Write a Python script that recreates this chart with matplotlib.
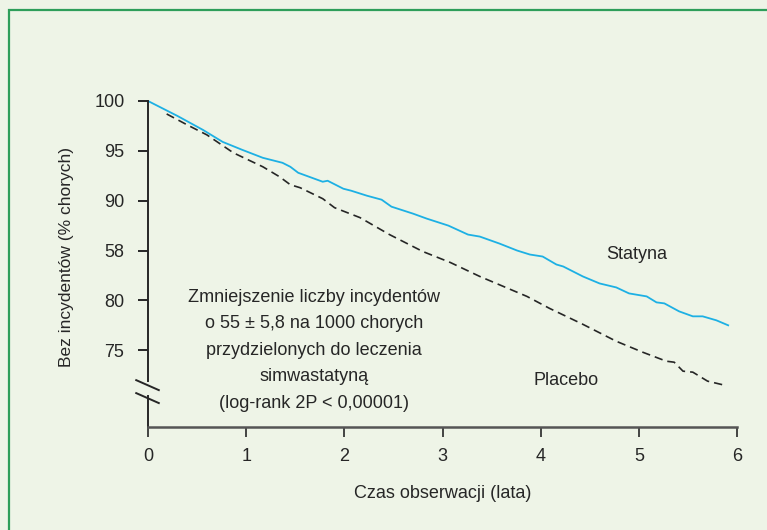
""" Kaplan-Meier style curves: simwastatyna vs placebo
"""
import matplotlib
matplotlib.use("Agg")
import matplotlib.pyplot as plt
from matplotlib.patches import Rectangle

plt.rcParams["font.family"] = ["Liberation Sans", "DejaVu Sans"]

# data
statyna_x = [0, 0.3, 0.56, 0.76, 0.96, 1.17, 1.37, 1.45, 1.53, 1.78, 1.83, 1.99, 2.07,
             2.23, 2.38, 2.48, 2.70, 2.84, 3.06, 3.26, 3.38, 3.58, 3.76, 3.89, 4.02,
             4.16, 4.23, 4.43, 4.60, 4.77, 4.90, 5.08, 5.18, 5.26, 5.41, 5.55, 5.65,
             5.79, 5.91]
statyna_y = [100, 98.5, 97.1, 95.9, 95.1, 94.3, 93.8, 93.4, 92.8, 91.9, 92.0, 91.2, 91.0,
             90.5, 90.1, 89.4, 88.7, 88.2, 87.5, 86.6, 86.4, 85.7, 85.0, 84.6, 84.4,
             83.6, 83.4, 82.4, 81.7, 81.3, 80.7, 80.4, 79.8, 79.7, 78.9, 78.4, 78.4,
             78.0, 77.5]

placebo_x = [0.19, 0.40, 0.60, 0.87, 1.17, 1.34, 1.45, 1.55, 1.78, 1.90, 2.16, 2.46,
             2.80, 3.08, 3.38, 3.86, 4.09, 4.43, 4.77, 5.04, 5.28, 5.36, 5.45, 5.55,
             5.70, 5.87]
placebo_y = [98.7, 97.6, 96.6, 94.8, 93.4, 92.4, 91.6, 91.3, 90.2, 89.3, 88.3, 86.6,
             84.9, 83.8, 82.4, 80.4, 79.2, 77.6, 75.9, 74.8, 73.9, 73.8, 72.9, 72.8,
             71.9, 71.5]

x_ticks = [0, 1, 2, 3, 4, 5, 6]
y_ticks = [100, 95, 90, 85, 80, 75]
y_tick_labels = ["100", "95", "90", "58", "80", "75"]

note = ("Zmniejszenie liczby incydentów\no 55 \u00b1 5,8 na 1000 chorych\n"
        "przydzielonych do leczenia\nsimwastatyną\n(log-rank 2P < 0,00001)")

BG = "#eef4e7"
CYAN = "#1db0e4"
INK = "#262626"
Y_BOTTOM = 67.3
Y_TOP = 100.3
GAP_LOW, GAP_HIGH = 70.4, 71.9


def main() -> None:
    fig = plt.figure(figsize=(7.67, 5.30), dpi=100)
    fig.patch.set_facecolor(BG)

    # green frame (only top and left edges visible)
    fig.patches.append(Rectangle((9 / 767, -0.5), 2.0, 0.5 + (1 - 10 / 530),
                                 transform=fig.transFigure, fill=False,
                                 edgecolor="#2e9e5a", linewidth=1.6))

    ax = fig.add_axes([148 / 767, 1 - 427 / 530, (737 - 148) / 767, (427 - 98) / 530])
    ax.set_facecolor("none")

    ax.plot(statyna_x, statyna_y, color=CYAN, lw=1.3)
    ax.plot(placebo_x, placebo_y, color=INK, lw=1.2, linestyle=(0, (5, 3)))

    ax.set_xlim(0, 6)
    ax.set_ylim(Y_BOTTOM, Y_TOP)
    ax.set_xticks(x_ticks)
    ax.set_yticks(y_ticks)
    ax.set_yticklabels(y_tick_labels)

    for s in ["top", "right"]:
        ax.spines[s].set_visible(False)
    ax.spines["bottom"].set_color("#555555")
    ax.spines["bottom"].set_linewidth(1.8)
    ax.spines["left"].set_color(INK)
    ax.spines["left"].set_linewidth(1.4)
    ax.spines["left"].set_bounds(GAP_HIGH, 100)

    # lower part of the broken y axis and the break marks
    ax.plot([0, 0], [Y_BOTTOM, GAP_LOW], color=INK, lw=1.4, clip_on=False)
    for yc in [GAP_HIGH - 0.4, GAP_LOW - 0.2]:
        ax.plot([-0.12, 0.11], [yc + 0.5, yc - 0.5], color=INK, lw=1.4,
                clip_on=False)

    ax.tick_params(axis="y", length=7, width=1.4, pad=10, labelsize=13, colors=INK)
    ax.tick_params(axis="x", length=7, width=1.2, pad=8, labelsize=13, colors=INK)

    ax.text(1.69, 75.0, note, ha="center", va="center", fontsize=13,
            linespacing=1.73, color=INK)
    ax.text(4.98, 84.6, "Statyna", ha="center", va="center", fontsize=13, color=INK)
    ax.text(4.26, 72.0, "Placebo", ha="center", va="center", fontsize=13, color=INK)

    fig.text(67 / 767, 1 - 257 / 530, "Bez incydentów (% chorych)", rotation=90,
             ha="center", va="center", fontsize=12.5, color=INK)
    fig.text(443 / 767, 1 - 494 / 530, "Czas obserwacji (lata)",
             ha="center", va="center", fontsize=13, color=INK)

    fig.savefig("out.png", dpi=100, facecolor=BG)
    plt.close(fig)


if __name__ == "__main__":
    main()
